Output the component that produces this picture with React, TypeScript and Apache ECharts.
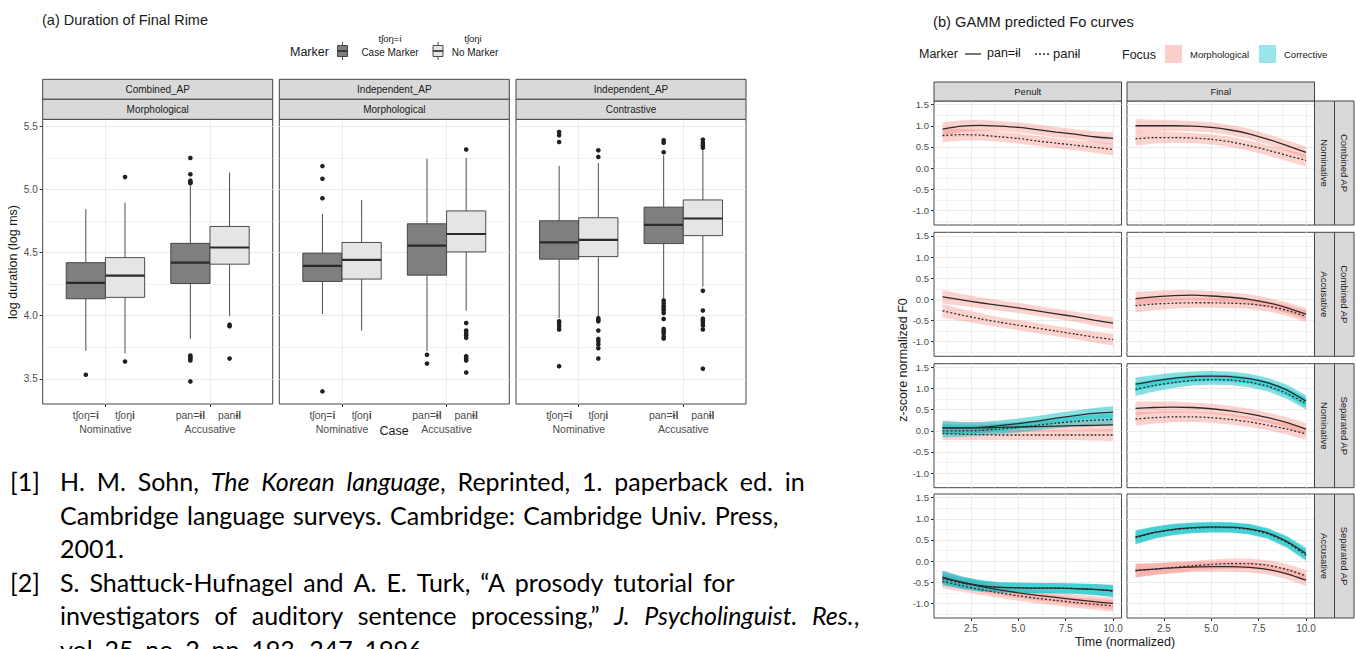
import React, { useEffect, useRef } from "react";
import * as echarts from "echarts";

// ---------------- (a) Duration of Final Rime : data ----------------
const apTypes = ["Combined_AP", "Independent_AP", "Independent_AP"];
const focusTypes = ["Morphological", "Morphological", "Contrastive"];
const caseNames = ["Nominative", "Accusative"];
const casePos = [1, 2];
const boxLabelsRich = ["tʃoŋ={b|i}", "tʃoŋ{b|i}", "pan={b|ɨl}", "pan{b|ɨl}"];
const logTicks = [3.5, 4.0, 4.5, 5.0, 5.5];
const logMinor = [3.75, 4.25, 4.75, 5.25];

// [lower whisker, Q1, median, Q3, upper whisker]; order: Nom+marker, Nom no marker, Acc+marker, Acc no marker
const statsCombinedMorph = [
  [3.72, 4.134, 4.26, 4.42, 4.844],
  [3.7, 4.145, 4.318, 4.46, 4.896],
  [3.816, 4.255, 4.42, 4.573, 5.03],
  [3.995, 4.408, 4.54, 4.707, 5.135],
];
const outCombinedMorph = [
  [3.532],
  [5.098, 3.637],
  [5.25, 5.12, 5.07, 5.06, 5.05, 3.684, 3.67, 3.658, 3.645, 3.479],
  [3.929, 3.916, 3.66],
];
const statsIndepMorph = [
  [4.013, 4.271, 4.395, 4.495, 4.807],
  [3.882, 4.29, 4.442, 4.58, 4.917],
  [3.72, 4.321, 4.555, 4.728, 5.243],
  [4.04, 4.505, 4.647, 4.83, 5.25],
];
const outIndepMorph = [
  [5.185, 5.085, 4.93, 3.4],
  [],
  [3.69, 3.62],
  [5.317, 3.942, 3.882, 3.863, 3.845, 3.824, 3.679, 3.66, 3.645, 3.55],
];
const statsIndepContr = [
  [3.98, 4.448, 4.58, 4.752, 5.187],
  [3.995, 4.468, 4.6, 4.776, 5.21],
  [4.126, 4.571, 4.72, 4.86, 5.27],
  [4.231, 4.634, 4.77, 4.917, 5.31],
];
const outIndepContr = [
  [5.455, 5.43, 5.376, 3.955, 3.937, 3.916, 3.89, 3.6],
  [5.31, 5.258, 3.98, 3.968, 3.955, 3.882, 3.816, 3.795, 3.771, 3.742, 3.66],
  [5.39, 5.37, 5.295, 4.12, 4.1, 4.079, 4.061, 4.042, 4.021, 3.974, 3.895, 3.876, 3.858, 3.832, 3.818],
  [5.395, 5.37, 5.35, 5.33, 4.197, 4.04, 3.976, 3.961, 3.942, 3.921, 3.89, 3.58],
];

// ---------------- (b) GAMM predicted F0 curves : data ----------------
const timePts = [1, 2, 3, 4, 5, 6, 7, 8, 9, 10];
const timeTicks = [2.5, 5.0, 7.5, 10.0];
const timeMinor = [1.25, 3.75, 6.25, 8.75];
const zTicks = [-1.0, -0.5, 0.0, 0.5, 1.0, 1.5];
const zMinor = [-1.25, -0.75, -0.25, 0.25, 0.75, 1.25];
const ciHalf = [0.16, 0.14, 0.13, 0.12, 0.12, 0.12, 0.12, 0.12, 0.13, 0.14];

// Combined AP - Nominative
const cnPenMorphMk = [0.92, 0.99, 1.01, 0.99, 0.96, 0.91, 0.85, 0.8, 0.74, 0.7];
const cnPenMorphNo = [0.77, 0.79, 0.78, 0.74, 0.7, 0.64, 0.59, 0.54, 0.49, 0.44];
const cnFinMorphMk = [1.0, 1.0, 1.0, 0.99, 0.96, 0.9, 0.81, 0.68, 0.53, 0.37];
const cnFinMorphNo = [0.69, 0.72, 0.72, 0.71, 0.68, 0.62, 0.53, 0.42, 0.3, 0.18];
// Combined AP - Accusative
const caPenMorphMk = [0.06, -0.01, -0.08, -0.14, -0.2, -0.27, -0.34, -0.41, -0.49, -0.56];
const caPenMorphNo = [-0.27, -0.37, -0.46, -0.54, -0.61, -0.68, -0.75, -0.82, -0.89, -0.95];
const caFinMorphMk = [0.02, 0.06, 0.09, 0.1, 0.08, 0.05, 0.0, -0.08, -0.2, -0.35];
const caFinMorphNo = [-0.15, -0.11, -0.09, -0.08, -0.08, -0.09, -0.11, -0.16, -0.26, -0.4];
// Separated AP - Nominative
const snPenMorphMk = [0.07, 0.07, 0.07, 0.08, 0.09, 0.1, 0.11, 0.12, 0.13, 0.14];
const snPenMorphNo = [-0.06, -0.08, -0.09, -0.1, -0.1, -0.1, -0.1, -0.1, -0.1, -0.1];
const snPenCorrMk = [0.07, 0.07, 0.08, 0.12, 0.17, 0.23, 0.3, 0.36, 0.41, 0.44];
const snPenCorrNo = [0.0, 0.0, 0.01, 0.04, 0.08, 0.13, 0.18, 0.22, 0.25, 0.27];
const snFinMorphMk = [0.53, 0.55, 0.56, 0.55, 0.52, 0.47, 0.4, 0.31, 0.19, 0.04];
const snFinMorphNo = [0.28, 0.31, 0.33, 0.33, 0.31, 0.27, 0.21, 0.13, 0.04, -0.07];
const snFinCorrMk = [1.1, 1.18, 1.24, 1.28, 1.29, 1.28, 1.23, 1.13, 0.96, 0.7];
const snFinCorrNo = [0.98, 1.07, 1.14, 1.19, 1.21, 1.2, 1.15, 1.05, 0.88, 0.64];
// Separated AP - Accusative
const saPenMorphMk = [-0.39, -0.5, -0.6, -0.68, -0.75, -0.81, -0.86, -0.91, -0.96, -1.0];
const saPenMorphNo = [-0.48, -0.58, -0.67, -0.75, -0.82, -0.88, -0.93, -0.98, -1.02, -1.06];
const saPenCorrMk = [-0.38, -0.5, -0.58, -0.62, -0.63, -0.64, -0.64, -0.65, -0.67, -0.7];
const saPenCorrNo = [-0.42, -0.52, -0.59, -0.62, -0.63, -0.64, -0.64, -0.65, -0.67, -0.71];
const saFinMorphMk = [-0.22, -0.19, -0.16, -0.14, -0.13, -0.13, -0.15, -0.2, -0.3, -0.45];
const saFinMorphNo = [-0.23, -0.19, -0.15, -0.11, -0.08, -0.06, -0.06, -0.1, -0.2, -0.35];
const saFinCorrMk = [0.57, 0.68, 0.75, 0.79, 0.81, 0.8, 0.76, 0.66, 0.46, 0.18];
const saFinCorrNo = [0.55, 0.67, 0.74, 0.78, 0.79, 0.79, 0.75, 0.64, 0.44, 0.14];

const posNames = ["Penult", "Final"];
const caseRowNames = ["Nominative", "Accusative", "Nominative", "Accusative"];
const apRowNames = ["Combined AP", "Combined AP", "Separated AP", "Separated AP"];

// ---------------- references text (italic parts between *) ----------------
const refNums = ["[1]", "", "", "[2]", "", ""];
const refLines = [
  "H. M. Sohn, *The Korean language*, Reprinted, 1. paperback ed. in",
  "Cambridge language surveys. Cambridge: Cambridge Univ. Press,",
  "2001.",
  "S. Shattuck-Hufnagel and A. E. Turk, “A prosody tutorial for",
  "investigators of auditory sentence processing,” *J. Psycholinguist. Res.*,",
  "vol. 25, no. 2, pp. 193–247, 1996.",
];
const refSpaceW = [11.8, 8.3, 6, 10, 14.6, 6];

// ---------------- styling ----------------
const W = 1356;
const H = 649;
const FONT = "'Liberation Sans', Arial, sans-serif";
const REF_FONT = "Lato, 'Open Sans', sans-serif";
const TXT = "#1a1a1a";
const TICKC = "#4d4d4d";
const GRIDC = "#ebebeb";
const BORDER = "#444444";
const STRIP = "#d9d9d9";
const DARK = "#7f7f7f";
const LIGHT = "#e5e5e5";
const PINK = "#F8766D";
const CYAN = "#00BFC4";
const LINEC = "#2b2b2b";
const DODGE = 0.1875;
const BOXW = 0.375;

const LG = { lefts: [42.7, 279.3, 516], width: 230, top: 119.3, height: 284.7, ymin: 3.3, ymax: 5.556 };
const RG = { lefts: [934, 1127], width: 187.5, tops: [101, 232.3, 363.7, 494], height: 124, xmin: 0.55, xmax: 10.45, ymin: -1.345, ymax: 1.585 };

function txt(text: string, x: number, y: number, o: any = {}) {
  const align = o.align || "left";
  const va = o.va || "middle";
  return {
    type: "text",
    x,
    y,
    rotation: o.rotation || 0,
    silent: true,
    z: 100,
    style: {
      text,
      x: 0,
      y: 0,
      fontSize: o.size || 10,
      fontFamily: o.family || FONT,
      fontStyle: o.italic ? "italic" : "normal",
      fontWeight: o.weight || "normal",
      fill: o.color || TXT,
      align,
      verticalAlign: va,
      textAlign: align,
      textVerticalAlign: va,
      rich: o.rich,
    },
  };
}

// turn "a *b c* d" into rich tokens with fixed-width word spaces
function richLine(line: string) {
  const out: string[] = [];
  let cur = "";
  let ital = false;
  const flush = () => {
    if (cur) out.push("{" + (ital ? "i" : "n") + "|" + cur + "}");
    cur = "";
  };
  for (const ch of line) {
    if (ch === "*") {
      flush();
      ital = !ital;
    } else if (ch === " ") {
      flush();
      out.push("{s|\u00a0}");
    } else cur += ch;
  }
  flush();
  return out.join("");
}

function buildOption() {
  const grids: any[] = [];
  const xAxes: any[] = [];
  const yAxes: any[] = [];
  const series: any[] = [];
  const graphics: any[] = [];

  const addGrid = (left: number, top: number, width: number, height: number) => {
    grids.push({ left, top, width, height, show: true, borderColor: BORDER, borderWidth: 1, backgroundColor: "#fff", containLabel: false, outerBoundsMode: "none" });
    return grids.length - 1;
  };

  // ---------- left panels ----------
  const leftStats = [statsCombinedMorph, statsIndepMorph, statsIndepContr];
  const leftOut = [outCombinedMorph, outIndepMorph, outIndepContr];
  const boxPos = casePos.flatMap((c) => [c - DODGE, c + DODGE]);

  const makeBox = (fill: string) => (params: any, api: any) => {
    const x = api.value(0);
    const lo = api.coord([x, api.value(1)]);
    const q1 = api.coord([x, api.value(2)]);
    const md = api.coord([x, api.value(3)]);
    const q3 = api.coord([x, api.value(4)]);
    const hi = api.coord([x, api.value(5)]);
    const half = api.size([BOXW, 0])[0] / 2;
    const cx = lo[0];
    return {
      type: "group",
      children: [
        { type: "line", shape: { x1: cx, y1: hi[1], x2: cx, y2: q3[1] }, style: { stroke: "#3a3a3a", lineWidth: 0.9 } },
        { type: "line", shape: { x1: cx, y1: q1[1], x2: cx, y2: lo[1] }, style: { stroke: "#3a3a3a", lineWidth: 0.9 } },
        { type: "rect", shape: { x: cx - half, y: q3[1], width: half * 2, height: q1[1] - q3[1] }, style: { fill, stroke: "#3a3a3a", lineWidth: 0.9 } },
        { type: "line", shape: { x1: cx - half, y1: md[1], x2: cx + half, y2: md[1] }, style: { stroke: "#2a2a2a", lineWidth: 2.2 } },
      ],
    };
  };

  apTypes.forEach((ap, i) => {
    const g = addGrid(LG.lefts[i], LG.top, LG.width, LG.height);
    const xMain = xAxes.push({
      type: "value", gridIndex: g, min: 0.4, max: 2.6, position: "bottom",
      axisLine: { show: false, onZero: false },
      axisTick: { show: true, customValues: casePos, length: 3, lineStyle: { color: "#333" } },
      axisLabel: { show: true, customValues: casePos, formatter: (v: number) => caseNames[Math.round(v) - 1], margin: 19, fontSize: 10.5, color: TICKC, fontFamily: FONT },
      splitLine: { show: true, lineStyle: { color: GRIDC, width: 1 } },
    }) - 1;
    xAxes.push({
      type: "value", gridIndex: g, min: 0.4, max: 2.6, position: "bottom",
      axisLine: { show: false, onZero: false },
      axisTick: { show: false, customValues: boxPos },
      axisLabel: {
        show: true, customValues: boxPos, margin: 5, fontSize: 10.5, color: TICKC, fontFamily: FONT,
        formatter: (v: number) => {
          const k = boxPos.findIndex((p) => Math.abs(p - v) < 1e-6);
          return k >= 0 ? boxLabelsRich[k] : "";
        },
        rich: { b: { fontWeight: "bold", fontSize: 10.5, fontFamily: FONT, color: TICKC } },
      },
      splitLine: { show: false },
    });
    const yMain = yAxes.push({
      type: "value", gridIndex: g, min: LG.ymin, max: LG.ymax,
      axisLine: { show: false, onZero: false },
      axisTick: { show: i === 0, customValues: logTicks, length: 3, lineStyle: { color: "#333" } },
      axisLabel: { show: i === 0, customValues: logTicks, formatter: (v: number) => v.toFixed(1), margin: 5, fontSize: 10, color: TICKC, fontFamily: FONT },
      splitLine: { show: true, lineStyle: { color: GRIDC, width: 1 } },
    }) - 1;
    yAxes.push({
      type: "value", gridIndex: g, min: LG.ymin, max: LG.ymax,
      axisLine: { show: false, onZero: false },
      axisTick: { show: false, customValues: logMinor },
      axisLabel: { show: false, customValues: logMinor },
      splitLine: { show: true, lineStyle: { color: GRIDC, width: 0.6 } },
    });

    const st = leftStats[i];
    const ou = leftOut[i];
    [0, 1].forEach((m) => {
      const data = casePos.map((c, ci) => [c + (m === 0 ? -DODGE : DODGE), ...st[ci * 2 + m]]);
      series.push({
        type: "custom", xAxisIndex: xMain, yAxisIndex: yMain, silent: true, z: 3,
        renderItem: makeBox(m === 0 ? DARK : LIGHT),
        encode: { x: 0, y: [1, 2, 3, 4, 5] },
        data,
      });
      const pts: number[][] = [];
      casePos.forEach((c, ci) => {
        ou[ci * 2 + m].forEach((v) => pts.push([c + (m === 0 ? -DODGE : DODGE), v]));
      });
      series.push({
        type: "scatter", xAxisIndex: xMain, yAxisIndex: yMain, silent: true, z: 4,
        symbolSize: 4.6, itemStyle: { color: "#1f1f1f", opacity: 1 }, data: pts,
      });
    });

    // strips
    graphics.push({ type: "rect", shape: { x: LG.lefts[i], y: 79.3, width: LG.width, height: 20 }, style: { fill: STRIP, stroke: BORDER, lineWidth: 1 }, silent: true, z: 90 });
    graphics.push({ type: "rect", shape: { x: LG.lefts[i], y: 99.3, width: LG.width, height: 20 }, style: { fill: STRIP, stroke: BORDER, lineWidth: 1 }, silent: true, z: 90 });
    graphics.push(txt(ap, LG.lefts[i] + LG.width / 2, 89.5, { size: 10, align: "center" }));
    graphics.push(txt(focusTypes[i], LG.lefts[i] + LG.width / 2, 109.5, { size: 10, align: "center" }));
  });

  // ---------- right panels ----------
  const rightCurves: any[][][] = [
    [
      [{ v: cnPenMorphMk, f: 0, mk: true }, { v: cnPenMorphNo, f: 0, mk: false }],
      [{ v: cnFinMorphMk, f: 0, mk: true }, { v: cnFinMorphNo, f: 0, mk: false }],
    ],
    [
      [{ v: caPenMorphMk, f: 0, mk: true }, { v: caPenMorphNo, f: 0, mk: false }],
      [{ v: caFinMorphMk, f: 0, mk: true }, { v: caFinMorphNo, f: 0, mk: false }],
    ],
    [
      [{ v: snPenMorphMk, f: 0, mk: true }, { v: snPenMorphNo, f: 0, mk: false }, { v: snPenCorrMk, f: 1, mk: true }, { v: snPenCorrNo, f: 1, mk: false }],
      [{ v: snFinMorphMk, f: 0, mk: true }, { v: snFinMorphNo, f: 0, mk: false }, { v: snFinCorrMk, f: 1, mk: true }, { v: snFinCorrNo, f: 1, mk: false }],
    ],
    [
      [{ v: saPenMorphMk, f: 0, mk: true }, { v: saPenMorphNo, f: 0, mk: false }, { v: saPenCorrMk, f: 1, mk: true }, { v: saPenCorrNo, f: 1, mk: false }],
      [{ v: saFinMorphMk, f: 0, mk: true }, { v: saFinMorphNo, f: 0, mk: false }, { v: saFinCorrMk, f: 1, mk: true }, { v: saFinCorrNo, f: 1, mk: false }],
    ],
  ];

  RG.tops.forEach((top, r) => {
    RG.lefts.forEach((left, c) => {
      const g = addGrid(left, top, RG.width, RG.height);
      const bottomRow = r === RG.tops.length - 1;
      const xMain = xAxes.push({
        type: "value", gridIndex: g, min: RG.xmin, max: RG.xmax, position: "bottom",
        axisLine: { show: false, onZero: false },
        axisTick: { show: bottomRow, customValues: timeTicks, length: 3, lineStyle: { color: "#333" } },
        axisLabel: { show: bottomRow, customValues: timeTicks, formatter: (v: number) => v.toFixed(1), margin: 5, fontSize: 10, color: TICKC, fontFamily: FONT },
        splitLine: { show: true, lineStyle: { color: GRIDC, width: 1 } },
      }) - 1;
      xAxes.push({
        type: "value", gridIndex: g, min: RG.xmin, max: RG.xmax, position: "bottom",
        axisLine: { show: false, onZero: false },
        axisTick: { show: false, customValues: timeMinor },
        axisLabel: { show: false, customValues: timeMinor },
        splitLine: { show: true, lineStyle: { color: GRIDC, width: 0.6 } },
      });
      const yMain = yAxes.push({
        type: "value", gridIndex: g, min: RG.ymin, max: RG.ymax,
        axisLine: { show: false, onZero: false },
        axisTick: { show: c === 0, customValues: zTicks, length: 3, lineStyle: { color: "#333" } },
        axisLabel: { show: c === 0, customValues: zTicks, formatter: (v: number) => v.toFixed(1), margin: 5, fontSize: 9.5, color: TICKC, fontFamily: FONT },
        splitLine: { show: true, lineStyle: { color: GRIDC, width: 1 } },
      }) - 1;
      yAxes.push({
        type: "value", gridIndex: g, min: RG.ymin, max: RG.ymax,
        axisLine: { show: false, onZero: false },
        axisTick: { show: false, customValues: zMinor },
        axisLabel: { show: false, customValues: zMinor },
        splitLine: { show: true, lineStyle: { color: GRIDC, width: 0.6 } },
      });

      const curves = rightCurves[r][c];
      curves.forEach((cv: any) => {
        const col = cv.f === 0 ? PINK : CYAN;
        const op = cv.f === 0 ? 0.32 : 0.48;
        const vals: number[] = cv.v;
        series.push({
          type: "custom", xAxisIndex: xMain, yAxisIndex: yMain, silent: true, z: 2,
          data: timePts.map((t, k) => [t, vals[k] - ciHalf[k], vals[k] + ciHalf[k]]),
          encode: { x: 0, y: [1, 2] },
          renderItem: (params: any, api: any) => {
            if (params.dataIndex !== 0) return null;
            const upper = timePts.map((t, k) => api.coord([t, vals[k] + ciHalf[k]]));
            const lower = timePts.map((t, k) => api.coord([t, vals[k] - ciHalf[k]])).reverse();
            return { type: "polygon", shape: { points: upper.concat(lower) }, style: { fill: col, opacity: op } };
          },
        });
      });
      curves.forEach((cv: any) => {
        series.push({
          type: "line", xAxisIndex: xMain, yAxisIndex: yMain, silent: true, z: 4,
          symbol: "none", showSymbol: false, smooth: 0.2,
          lineStyle: { color: LINEC, width: 1.3, type: cv.mk ? "solid" : [2, 2] },
          data: timePts.map((t, k) => [t, cv.v[k]]),
        });
      });

      // column strips
      if (r === 0) {
        graphics.push({ type: "rect", shape: { x: left, y: 82, width: RG.width, height: 19 }, style: { fill: STRIP, stroke: BORDER, lineWidth: 1 }, silent: true, z: 90 });
        graphics.push(txt(posNames[c], left + RG.width / 2, 91.5, { size: 9.5, align: "center" }));
      }
    });
    // row strips
    const sx1 = RG.lefts[1] + RG.width;
    graphics.push({ type: "rect", shape: { x: sx1, y: top, width: 20, height: RG.height }, style: { fill: STRIP, stroke: BORDER, lineWidth: 1 }, silent: true, z: 90 });
    graphics.push({ type: "rect", shape: { x: sx1 + 20, y: top, width: 19.5, height: RG.height }, style: { fill: STRIP, stroke: BORDER, lineWidth: 1 }, silent: true, z: 90 });
    graphics.push(txt(caseRowNames[r], sx1 + 10, top + RG.height / 2, { size: 9.5, align: "center", rotation: -Math.PI / 2 }));
    graphics.push(txt(apRowNames[r], sx1 + 29.75, top + RG.height / 2, { size: 9.5, align: "center", rotation: -Math.PI / 2 }));
  });

  // ---------- texts: panel (a) ----------
  graphics.push(txt("(a) Duration of Final Rime", 42, 20, { size: 14.5 }));
  graphics.push(txt("Marker", 290, 52, { size: 12.5 }));
  const key = (x: number, fill: string) => {
    graphics.push({ type: "line", shape: { x1: x + 5, y1: 42, x2: x + 5, y2: 60 }, style: { stroke: "#3a3a3a", lineWidth: 0.9 }, silent: true, z: 95 });
    graphics.push({ type: "rect", shape: { x, y: 45.5, width: 10, height: 11 }, style: { fill, stroke: "#3a3a3a", lineWidth: 0.9 }, silent: true, z: 95 });
    graphics.push({ type: "line", shape: { x1: x, y1: 51, x2: x + 10, y2: 51 }, style: { stroke: "#2a2a2a", lineWidth: 1.6 }, silent: true, z: 96 });
  };
  key(337.5, DARK);
  key(433, LIGHT);
  graphics.push(txt("tʃoŋ=i", 390, 38.5, { size: 9.5, align: "center" }));
  graphics.push(txt("Case Marker", 390, 52.5, { size: 10, align: "center" }));
  graphics.push(txt("tʃoŋi", 473, 38.5, { size: 9.5, align: "center" }));
  graphics.push(txt("No Marker", 475, 52.5, { size: 10, align: "center" }));
  graphics.push(txt("Case", 394, 430.5, { size: 12.5, align: "center" }));
  graphics.push(txt("log duration (log ms)", 13, 262, { size: 12.5, align: "center", rotation: Math.PI / 2 }));

  // ---------- texts: panel (b) ----------
  graphics.push(txt("(b) GAMM predicted Fo curves", 933, 22, { size: 14.7 }));
  graphics.push(txt("Marker", 919, 54, { size: 12.5 }));
  graphics.push({ type: "line", shape: { x1: 965, y1: 54, x2: 981, y2: 54 }, style: { stroke: LINEC, lineWidth: 1.3 }, silent: true, z: 95 });
  graphics.push(txt("pan=ɨl", 987, 53, { size: 12.5 }));
  graphics.push({ type: "line", shape: { x1: 1035, y1: 54, x2: 1050, y2: 54 }, style: { stroke: LINEC, lineWidth: 1.3, lineDash: [2, 2] }, silent: true, z: 95 });
  graphics.push(txt("panɨl", 1053, 53, { size: 13 }));
  graphics.push(txt("Focus", 1122, 54.5, { size: 12.5 }));
  graphics.push({ type: "rect", shape: { x: 1165, y: 45, width: 17, height: 18 }, style: { fill: PINK, opacity: 0.35 }, silent: true, z: 95 });
  graphics.push(txt("Morphological", 1190, 54, { size: 9.5 }));
  graphics.push({ type: "rect", shape: { x: 1259, y: 45, width: 17, height: 18 }, style: { fill: CYAN, opacity: 0.4 }, silent: true, z: 95 });
  graphics.push(txt("Corrective", 1284, 54, { size: 9.5 }));
  graphics.push(txt("z-score normalized F0", 903, 360, { size: 12.5, align: "center", rotation: Math.PI / 2 }));
  graphics.push(txt("Time (normalized)", 1125, 642, { size: 12.5, align: "center" }));

  // ---------- references ----------
  const RS = 25;
  refLines.forEach((ln, k) => {
    const y = 481 + k * 33.6;
    const rich = {
      i: { fontStyle: "italic", fontSize: RS, fontFamily: REF_FONT, fill: "#000" },
      n: { fontSize: RS, fontFamily: REF_FONT, fill: "#000" },
      s: { fontSize: RS, fontFamily: REF_FONT, fill: "#000", width: refSpaceW[k] },
    };
    if (refNums[k]) graphics.push(txt(refNums[k], 10, y, { size: RS, family: REF_FONT, color: "#000" }));
    graphics.push(txt(richLine(ln), 60, y, { size: RS, family: REF_FONT, color: "#000", rich }));
  });

  return {
    animation: false,
    backgroundColor: "#ffffff",
    grid: grids,
    xAxis: xAxes,
    yAxis: yAxes,
    series,
    graphic: { elements: graphics },
  };
}

export default function App() {
  const ref = useRef<HTMLDivElement>(null);
  useEffect(() => {
    if (!ref.current) return;
    const chart = echarts.init(ref.current, null, { renderer: "svg" });
    chart.setOption(buildOption() as any);
    return () => chart.dispose();
  }, []);
  return <div ref={ref} style={{ position: "fixed", left: 0, top: 0, width: W, height: H, background: "#fff" }} />;
}
